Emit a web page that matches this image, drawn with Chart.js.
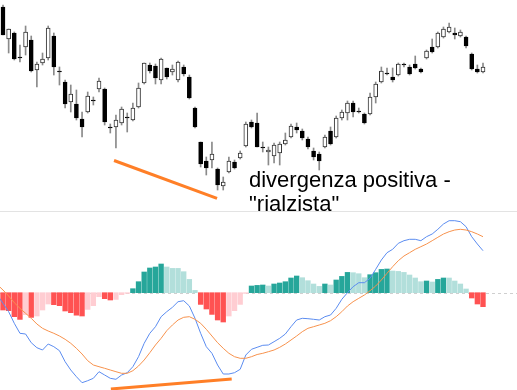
<!DOCTYPE html>
<html><head><meta charset="utf-8">
<script src="https://cdn.jsdelivr.net/npm/chart.js@4"></script>
<style>
html,body{margin:0;padding:0;background:#fff;overflow:hidden}
#wrap{position:relative;width:517px;height:390px}
#note{position:absolute;left:249px;top:168px;font-family:"Liberation Sans",Arial,sans-serif;font-size:22px;line-height:24px;color:#000;white-space:nowrap}
</style></head><body>
<div id="wrap"><canvas id="c" width="517" height="390"></canvas><div id="note">divergenza positiva -<br>"rialzista"</div></div>
<script>
// ---- price candles ----
const opens  = [193,161,167,143,153,160,130,137,142,164, 129,118,98,96,81,88,100,111,111,73, 73,77,83,80,93,117,135,134,120,132, 128,120,133,123,92,58,39,40,31,14, 28,38,42,54,78,77,53,48,44,47, 56,63,73,69,61,49,46,53,69,63, 82,87,97,89,86,86,103,118,127,123, 125,136,133,136,131,142,153,153,163,168, 167,164,163,146,131,128];
const highs  = [195,171,168,155,174,164,138,147,174,167, 133,120,115,110,88,108,103,122,112,76, 85,93,87,97,117,137,137,136,142,132, 135,139,135,125,93,58,43,58,32,23, 43,40,49,78,80,87,58,53,57,58, 67,76,77,71,63,52,48,65,73,84, 90,99,99,92,87,107,118,133,132,132, 137,137,135,144,132,150,161,168,173,177, 172,170,164,147,135,137];
const lows   = [165,147,140,138,145,128,113,135,140,125, 115,92,88,80,63,87,95,108,75,67, 52,75,68,79,92,116,127,116,116,121, 125,118,124,101,72,33,25,32,10,10, 27,31,41,53,72,53,48,35,37,35, 55,62,67,60,51,40,30,52,55,62, 80,80,83,87,76,85,97,117,125,118, 124,133,125,131,127,141,147,152,162,167, 161,163,152,130,127,127];
const closes = [165,171,141,143,168,129,136,141,172,133, 129,96,106,82,73,104,100,119,78,73, 80,91,83,92,112,137,129,122,141,123, 131,138,126,102,73,36,32,46,15,18, 39,32,47,76,73,53,53,50,55,56, 60,74,70,62,53,43,39,63,56,82, 88,97,88,89,77,103,116,129,126,120, 136,136,126,132,128,149,148,167,171,173, 165,168,154,131,128,133];

// ---- MACD panel ----
const histogram = [-17.3,-18,-24,-26.7,-22,-24.7,-23.3,-17.3,-11.3,-12, -13,-18.3,-20,-22.5,-23.3,-16.7,-13,-4,-6,-7.3, -6.7,-2,-0.7,4,11,20.7,24.7,25.7,28.7,25.7, 24.3,24.3,21,13.3,2.3,-11.7,-16.3,-21.7,-27.3,-29.3, -23.3,-18,-11.7,-0.7,6.7,7.3,7.7,6.7,8.7,9.7, 11,14.7,16.7,15,12,8.7,6.3,8.7,7.7,12.7, 16.3,20.3,20,19,15,18,20,23.3,23.7,21.7, 21.3,20.3,17.7,14.7,11,11.7,10.7,13.3,14.7,14.7, 11.7,8.7,3.7,-5.3,-11.3,-14];
const macdPrev = -2.3;
const macd = [-10.6,-19,-30.6,-40.6,-41.3,-50,-55,-57.3,-51.3,-54, -58,-69,-77.3,-84,-90,-88,-85.6,-79,-82.3,-85.6, -86.6,-82.3,-80,-74,-64,-50.6,-40.6,-34,-24,-19, -14.6,-9,-8,-13.3,-25.6,-40.6,-54,-60.6,-72.3,-81.3, -81.3,-80,-76.6,-62.3,-56.6,-54.6,-52.6,-52.3,-49,-45.6, -41.3,-34,-27.3,-25.6,-26,-26.6,-27.3,-24,-22.3,-15.6, -6.6,0,6,10,10,14.4,23.4,32.7,40,43.4, 49.4,52,53.4,53.4,52,56,58.7,63.4,68.7,72, 72,71,66,56,48.7,42];
const signalPrev = 8;
const signal = [2.7,-3.3,-10,-15.6,-20.6,-25.6,-31.3,-35.6,-38.3,-40.6, -43.3,-46.6,-50.6,-55.6,-61.3,-68,-72.3,-74,-75.6,-77.3, -79,-80.6,-80.6,-78,-73.3,-67.3,-60,-52.3,-45.6,-38, -32.3,-27.3,-24.6,-24,-26.6,-30.6,-36.6,-43.3,-50,-55.6, -60.6,-64,-65.6,-65.6,-64,-61.8,-60.6,-59,-57.3,-54.6, -51.3,-47.3,-43.3,-39,-35.6,-34,-32.3,-30.6,-28,-24, -19,-13.3,-9,-5.6,-2.3,2,6.7,12.7,19.4,26, 32,36.7,40,43.4,46,48.7,52,55.4,58.7,61, 62.7,63.4,62.7,61,58.7,56];

// ---- divergence annotations (bar index, value) ----
const priceDivX = [19.66, 37.9];
const priceDivY = [39.5, 1.7];
const macdDivX = [19.1, 40.5];
const macdDivY = [-96.3, -86.3];

const idx = opens.map((_, i) => i);
const up = idx.map(i => closes[i] > opens[i]);

const histColors = histogram.map((v, i) => {
  const p = i > 0 ? histogram[i - 1] : v;
  if (v >= 0) return v > p ? '#26a69a' : '#b2dfdb';
  return v < p || i === 0 ? '#ff5252' : '#ffcdd2';
});

const guides = {
  id: 'guides',
  beforeDatasetsDraw(chart) {
    const ctx = chart.ctx, m = chart.scales.m;
    ctx.save();
    ctx.strokeStyle = '#e3e3e3';
    ctx.lineWidth = 1;
    ctx.beginPath(); ctx.moveTo(0, 211.5); ctx.lineTo(chart.width, 211.5); ctx.stroke();
    const y0 = Math.round(m.getPixelForValue(0)) + 0.5;
    ctx.strokeStyle = '#cfcfcf';
    ctx.setLineDash([3, 3]);
    ctx.beginPath(); ctx.moveTo(0, y0); ctx.lineTo(chart.width, y0); ctx.stroke();
    ctx.restore();
  }
};

new Chart(document.getElementById('c'), {
  type: 'bar',
  data: {
    datasets: [
      { type: 'line', yAxisID: 'y', order: 0, data: priceDivX.map((x, k) => ({ x, y: priceDivY[k] })),
        borderColor: '#ff7f27', borderWidth: 3, pointRadius: 0, tension: 0 },
      { type: 'line', yAxisID: 'm', order: 0, data: macdDivX.map((x, k) => ({ x, y: macdDivY[k] })),
        borderColor: '#ff7f27', borderWidth: 3, pointRadius: 0, tension: 0 },
      { type: 'line', yAxisID: 'm', order: 1, data: [{ x: -1, y: signalPrev }].concat(signal.map((y, i) => ({ x: i, y }))),
        borderColor: '#f7924d', borderWidth: 1, pointRadius: 0, tension: 0 },
      { type: 'line', yAxisID: 'm', order: 1, data: [{ x: -1, y: macdPrev }].concat(macd.map((y, i) => ({ x: i, y }))),
        borderColor: '#5b8cf0', borderWidth: 1, pointRadius: 0, tension: 0 },
      { yAxisID: 'm', order: 3, grouped: false, data: histogram.map((y, i) => ({ x: i, y })),
        backgroundColor: histColors, barThickness: 4.7, borderWidth: 0 },
      { yAxisID: 'y', order: 4, grouped: false, data: idx.map(i => ({ x: i, y: [opens[i], closes[i]] })),
        backgroundColor: up.map(u => u ? '#ffffff' : '#000000'),
        borderColor: up.map(u => u ? '#333333' : '#000000'),
        borderWidth: 1, borderSkipped: false, barThickness: 4, minBarLength: 1 },
      { yAxisID: 'y', order: 5, grouped: false, data: idx.map(i => ({ x: i, y: [lows[i], highs[i]] })),
        backgroundColor: '#8a8a8a', barThickness: 1, borderWidth: 0 }
    ]
  },
  options: {
    responsive: false, animation: false, devicePixelRatio: 1,
    layout: { padding: 0 },
    plugins: { legend: { display: false }, tooltip: { enabled: false } },
    scales: {
      x: { type: 'linear', display: false, offset: false, min: -0.531, max: 91.02 },
      y: { type: 'linear', display: false, min: -190, max: 200 },
      m: { type: 'linear', display: false, min: -97.3, max: 292.7 }
    }
  },
  plugins: [guides]
});
</script>
</body></html>
